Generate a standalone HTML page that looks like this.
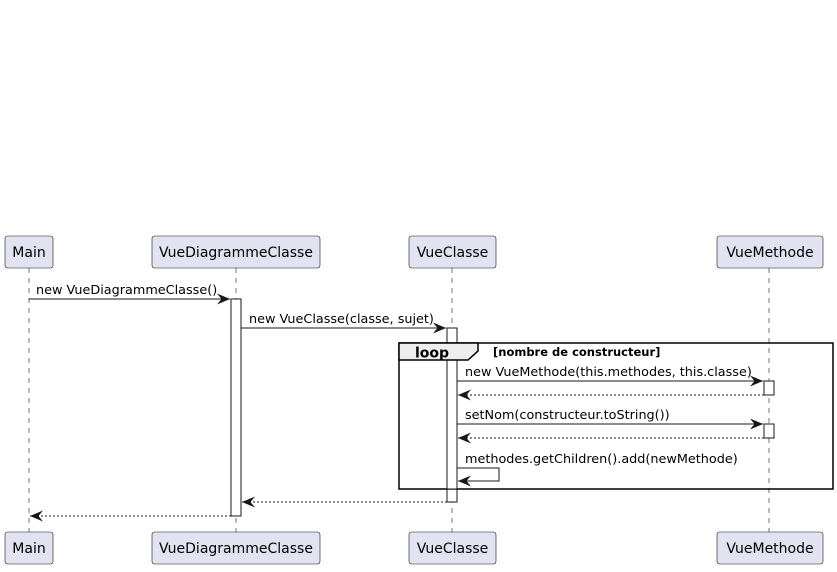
<!DOCTYPE html>
<html><head><meta charset="utf-8"><style>
html,body{margin:0;padding:0;background:#fff;width:837px;height:572px;overflow:hidden}
svg text{font-family:"DejaVu Sans","Liberation Sans",sans-serif;font-size:12.8px;fill:#000}
</style></head><body>
<svg width="837" height="572" viewBox="0 0 837 572" xmlns="http://www.w3.org/2000/svg">
<defs>
<marker id="a" markerWidth="14" markerHeight="12" refX="13" refY="5.5" orient="auto" markerUnits="userSpaceOnUse">
<path d="M0,0 L13,5.5 L0,11 L4.5,5.5 Z" fill="#181818"/></marker>
</defs>
<g stroke="#181818" stroke-width="0.6" stroke-dasharray="5,5">
<line x1="29" y1="268" x2="29" y2="532"/>
<line x1="236" y1="268" x2="236" y2="532"/>
<line x1="452" y1="268" x2="452" y2="532"/>
<line x1="769" y1="268" x2="769" y2="532"/>
</g>
<g fill="#E2E2F0" stroke="#181818" stroke-width="0.6">
<rect x="5" y="236" width="48" height="32" rx="2.5"/>
<rect x="152" y="236" width="168" height="32" rx="2.5"/>
<rect x="409" y="236" width="87" height="32" rx="2.5"/>
<rect x="717" y="236" width="106" height="32" rx="2.5"/>
<rect x="5" y="532" width="48" height="32" rx="2.5"/>
<rect x="152" y="532" width="168" height="32" rx="2.5"/>
<rect x="409" y="532" width="87" height="32" rx="2.5"/>
<rect x="717" y="532" width="106" height="32" rx="2.5"/>
</g>
<g>
<text x="29" y="257" text-anchor="middle" style="font-size:14px">Main</text>
<text x="236" y="257" text-anchor="middle" style="font-size:14px">VueDiagrammeClasse</text>
<text x="452.5" y="257" text-anchor="middle" style="font-size:14px">VueClasse</text>
<text x="770" y="257" text-anchor="middle" style="font-size:14px">VueMethode</text>
<text x="29" y="553" text-anchor="middle" style="font-size:14px">Main</text>
<text x="236" y="553" text-anchor="middle" style="font-size:14px">VueDiagrammeClasse</text>
<text x="452.5" y="553" text-anchor="middle" style="font-size:14px">VueClasse</text>
<text x="770" y="553" text-anchor="middle" style="font-size:14px">VueMethode</text>
</g>
<g fill="#fff" stroke="#181818" stroke-width="1">
<rect x="231" y="299" width="10" height="217"/>
<rect x="447" y="328" width="10" height="174"/>
<rect x="764" y="381" width="10" height="14"/>
<rect x="764" y="424" width="10" height="14"/>
</g>
<rect x="399" y="343" width="434" height="146" fill="none" stroke="#000" stroke-width="1.5"/>
<rect x="447" y="360" width="10" height="129" fill="#fff" stroke="#181818" stroke-width="1"/>
<path d="M399,343 L478,343 L478,351 L468,360 L399,360 Z" fill="#EEEEEE" stroke="#000" stroke-width="1.5"/>
<text x="415" y="357.5" style="font-weight:bold;font-size:14px">loop</text>
<text x="493" y="356" style="font-weight:bold;font-size:11.5px">[nombre de constructeur]</text>
<g stroke="#181818" stroke-width="1" fill="none">
<line x1="29" y1="299" x2="230" y2="299" marker-end="url(#a)"/>
<line x1="241" y1="328" x2="446" y2="328" marker-end="url(#a)"/>
<line x1="457" y1="381" x2="763" y2="381" marker-end="url(#a)"/>
<line x1="764" y1="395" x2="458" y2="395" stroke-dasharray="2,2" marker-end="url(#a)"/>
<line x1="457" y1="424" x2="763" y2="424" marker-end="url(#a)"/>
<line x1="764" y1="438" x2="458" y2="438" stroke-dasharray="2,2" marker-end="url(#a)"/>
<polyline points="457,468 499,468 499,481 458,481" marker-end="url(#a)"/>
<line x1="447" y1="502" x2="242" y2="502" stroke-dasharray="2,2" marker-end="url(#a)"/>
<line x1="231" y1="516" x2="30" y2="516" stroke-dasharray="2,2" marker-end="url(#a)"/>
</g>
<text x="36" y="294">new VueDiagrammeClasse()</text>
<text x="249" y="323">new VueClasse(classe, sujet)</text>
<text x="465" y="376">new VueMethode(this.methodes, this.classe)</text>
<text x="465" y="419">setNom(constructeur.toString())</text>
<text x="465" y="463">methodes.getChildren().add(newMethode)</text>
</svg>
</body></html>
